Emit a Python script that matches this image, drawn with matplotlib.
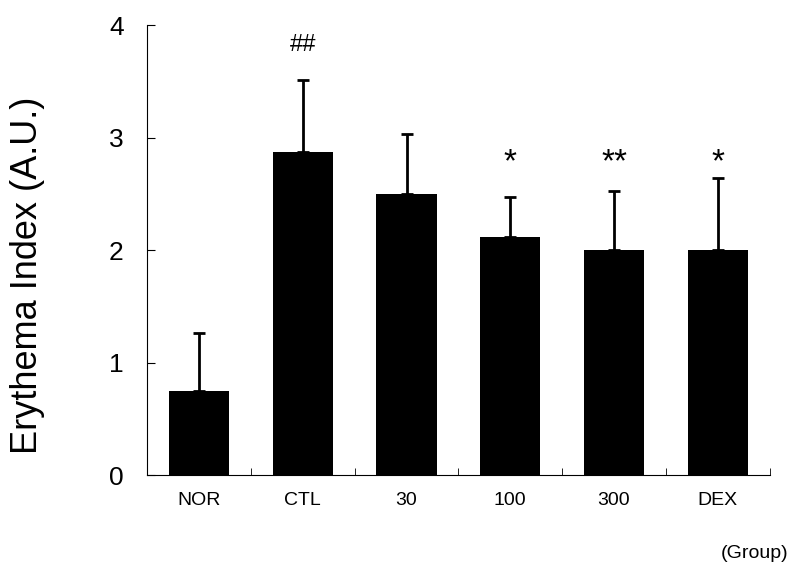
import numpy as np
import matplotlib
matplotlib.use('Agg')
import matplotlib.pyplot as plt

plt.rcParams['font.family'] = ['Liberation Sans', 'DejaVu Sans']

groups = ['NOR', 'CTL', '30', '100', '300', 'DEX']
means = [0.75, 2.87, 2.50, 2.12, 2.00, 2.00]
errors = [0.51, 0.64, 0.53, 0.35, 0.53, 0.64]
marks = ['', '##', '', '*', '**', '*']

fig = plt.figure(figsize=(8, 5.86), dpi=100)
ax = fig.add_axes([0.184, 0.189, 0.778, 0.768])

x = np.arange(len(groups))
ax.bar(x, means, width=0.58, color='black')
ax.errorbar(x, means, yerr=[np.zeros(len(errors)), errors], fmt='none',
            ecolor='black', elinewidth=2, capsize=4, capthick=2)

for xi, m in zip(x, marks):
    if m == '##':
        ax.text(xi, 3.82, m, ha='center', va='center', fontsize=17)
    elif m:
        ax.text(xi, 2.78, m, ha='center', va='center', fontsize=24)

ax.set_xlim(-0.5, len(groups) - 0.5)
ax.set_ylim(0, 4)
ax.set_yticks([0, 1, 2, 3, 4])
ax.set_yticklabels(['0', '1', '2', '3', '4'], fontsize=19)
ax.set_xticks(x)
ax.set_xticklabels(groups, fontsize=14)
ax.tick_params(axis='x', length=0, pad=12)
ax.set_xticks(np.arange(len(groups)) + 0.5, minor=True)
ax.tick_params(axis='x', which='minor', direction='in', length=5)
ax.tick_params(axis='y', direction='in', length=6, pad=17)

ax.spines['top'].set_visible(False)
ax.spines['right'].set_visible(False)

fig.text(0.035, 1 - 275 / 586, 'Erythema Index (A.U.)', rotation=90,
         ha='center', va='center', fontsize=26)
fig.text(0.985, 0.056, '(Group)', ha='right', va='center', fontsize=14)

fig.savefig('out.png', dpi=100)
